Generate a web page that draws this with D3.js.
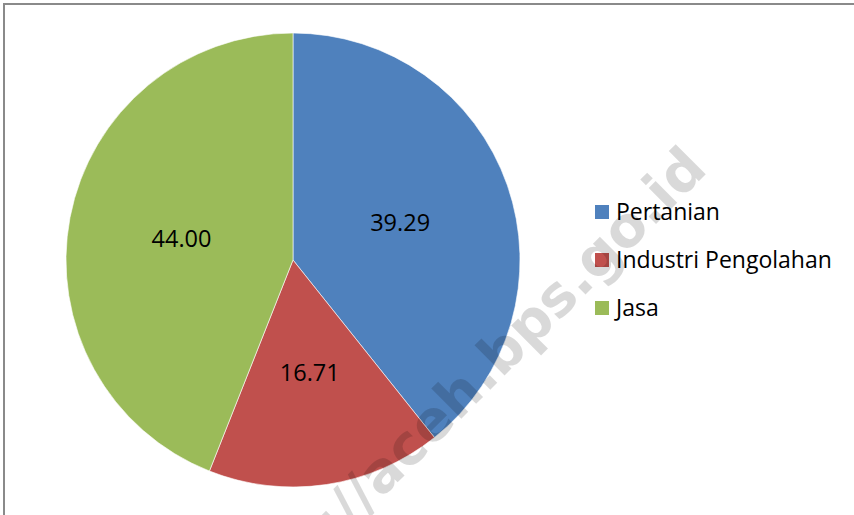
<!DOCTYPE html>
<html>
<head>
<meta charset="utf-8">
<script src="https://cdn.jsdelivr.net/npm/d3@7"></script>
<style>
  body { margin: 0; background: #fff; }
  svg { display: block; font-family: "Open Sans", "Noto Sans", sans-serif; }
</style>
</head>
<body>
<svg width="854" height="515"></svg>
<script>
var categories = ["Pertanian", "Industri Pengolahan", "Jasa"];
var values = [39.29, 16.71, 44.00];
var colors = ["#4F81BD", "#C0504D", "#9BBB59"];

var svg = d3.select("svg");

// chart frame (cut off at right / bottom)
svg.append("rect")
  .attr("x", 4).attr("y", 4)
  .attr("width", 900).attr("height", 600)
  .attr("fill", "#fff")
  .attr("stroke", "#8a8a8a")
  .attr("stroke-width", 2);

var cx = 293, cy = 260, r = 227;

var pie = d3.pie().sort(null).value(function(d) { return d; });
var arc = d3.arc().innerRadius(0).outerRadius(r);

var color = d3.scaleOrdinal().domain(categories).range(colors);

var g = svg.append("g").attr("transform", "translate(" + cx + "," + cy + ")");

var arcs = pie(values);

g.selectAll(".slice")
  .data(arcs)
  .enter().append("path")
    .attr("class", "slice")
    .attr("d", arc)
    .attr("fill", function(d, i) { return color(categories[i]); })
    .attr("stroke", "#fff")
    .attr("stroke-width", 0.6);

g.selectAll(".lbl")
  .data(arcs)
  .enter().append("text")
    .attr("class", "lbl")
    .attr("transform", function(d) { return "translate(" + arc.centroid(d) + ")"; })
    .attr("text-anchor", "middle")
    .attr("dy", "0.36em")
    .style("font-size", "23.5px")
    .attr("fill", "#000")
    .text(function(d) { return d.data.toFixed(2); });

// legend
var legend = svg.append("g").attr("transform", "translate(595,0)");
var ly = d3.scalePoint().domain(categories).range([212, 308]);

legend.selectAll("rect")
  .data(categories)
  .enter().append("rect")
    .attr("x", 0)
    .attr("y", function(d) { return ly(d) - 7; })
    .attr("width", 14).attr("height", 14)
    .attr("fill", function(d) { return color(d); });

legend.selectAll("text")
  .data(categories)
  .enter().append("text")
    .attr("x", 21)
    .attr("y", function(d) { return ly(d) + 8; })
    .style("font-size", "23px")
    .attr("fill", "#000")
    .text(function(d) { return d; });

// watermark
svg.append("text")
  .attr("transform", "translate(709,171) rotate(-45)")
  .attr("text-anchor", "end")
  .style("font-family", "'DejaVu Sans', sans-serif")
  .style("font-weight", "bold")
  .style("font-size", "56px")
  .attr("fill", "#000")
  .attr("fill-opacity", 0.15)
  .text("http://aceh.bps.go.id");
</script>
</body>
</html>
